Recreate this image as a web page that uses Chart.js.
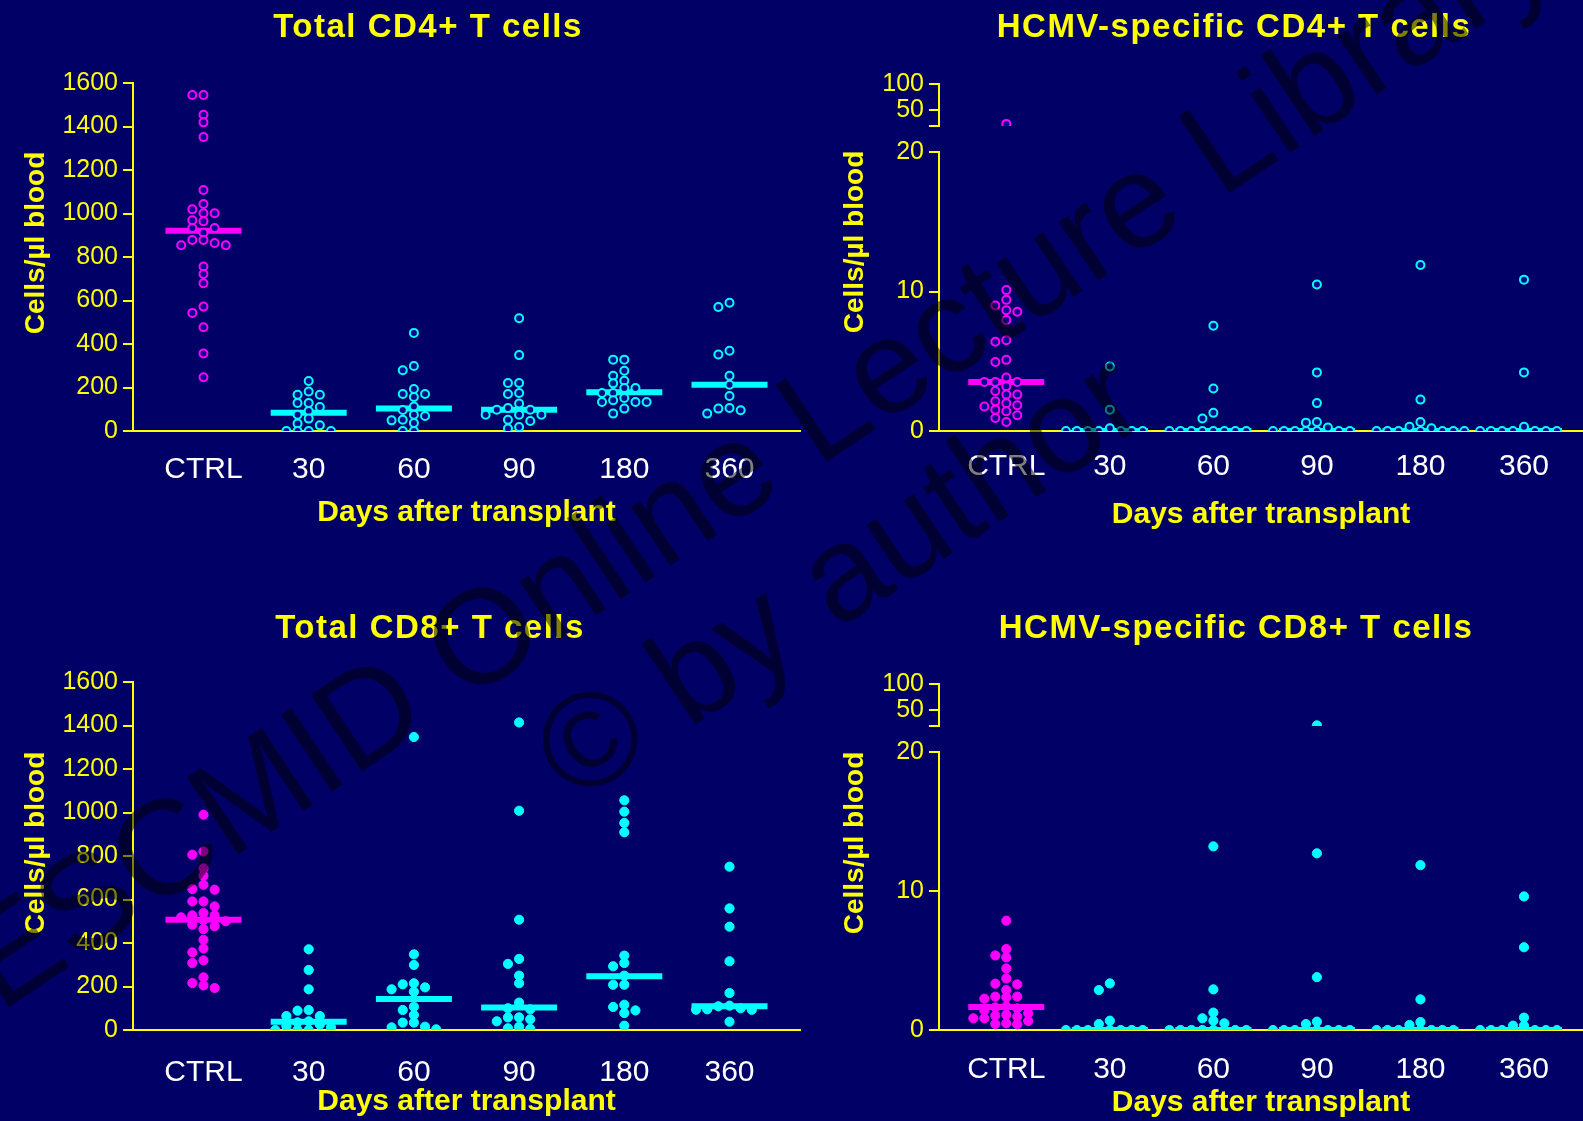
<!DOCTYPE html>
<html>
<head>
<meta charset="utf-8">
<script src="https://cdn.jsdelivr.net/npm/chart.js@4.4.1/dist/chart.umd.min.js"></script>
<style>
  html, body { margin: 0; padding: 0; background: #000066; width: 1583px; height: 1121px; overflow: hidden; }
  canvas { position: absolute; }
  .mark {
    position: absolute; font-family: 'Liberation Sans', Arial, sans-serif;
    font-size: 134px; line-height: 134px; color: rgba(0, 0, 0, 0.5);
    white-space: nowrap; transform-origin: 0 0; transform: rotate(-33.7deg); pointer-events: none;
  }
</style>
</head>
<body>
<canvas id="c1" width="806" height="540" style="left:0;top:0"></canvas>
<canvas id="c2" width="783" height="540" style="left:800px;top:0"></canvas>
<canvas id="c3" width="806" height="522" style="left:0;top:599px"></canvas>
<canvas id="c4" width="783" height="522" style="left:800px;top:599px"></canvas>
<div class="mark" style="left:-63px;top:919px">ESCMID Online Lecture Library</div>
<div class="mark" style="left:512px;top:711px">© by author</div>
<script>
// groups on the x axis
const categories = ['CTRL', '30', '60', '90', '180', '360'];

// tick values
const totalTicks = [0, 200, 400, 600, 800, 1000, 1200, 1400, 1600];
const lowTicks = [0, 10, 20];
const highTicks = [20, 50, 100];
const BREAK = 20; // where the specific-cell axes are broken

// Total CD4+ T cells, one list per group
const cd4Total = [
  [1545, 1545, 1454, 1419, 1352, 1108, 1044, 1019, 1001, 1001, 969, 964, 933, 933, 912, 878, 878, 864, 854, 854, 756, 722, 679, 572, 543, 477, 356, 247],
  [230, 182, 167, 167, 129, 129, 110, 92, 75, 57, 34, 26, 0, 0, 0, 0],
  [451, 299, 279, 193, 170, 170, 156, 113, 97, 75, 69, 52, 49, 37, 0, 0],
  [518, 349, 221, 221, 175, 170, 126, 106, 98, 98, 75, 75, 75, 52, 46, 18, 11],
  [328, 328, 277, 254, 231, 219, 198, 198, 175, 175, 152, 141, 133, 133, 133, 103, 80],
  [590, 570, 369, 352, 254, 213, 161, 106, 103, 95, 80]
];
const cd4TotalMedian = [921, 84, 104, 98, 178, 213];

// HCMV-specific CD4+ T cells
const cd4Specific = [
  [24, 10.1, 9.4, 9.0, 8.65, 8.55, 7.95, 6.5, 6.4, 5.1, 4.95, 3.83, 3.52, 3.52, 3.52, 3.2, 2.87, 2.61, 2.61, 2.13, 1.99, 1.84, 1.75, 1.53, 1.41, 1.13, 0.93, 0.65],
  [4.62, 1.53, 0.2, 0, 0, 0, 0, 0, 0, 0],
  [7.55, 3.05, 1.3, 0.9, 0, 0, 0, 0, 0, 0, 0, 0],
  [10.5, 4.2, 2.0, 0.65, 0.6, 0.25, 0, 0, 0, 0, 0, 0, 0],
  [11.9, 2.25, 0.65, 0.3, 0.2, 0, 0, 0, 0, 0, 0, 0],
  [10.85, 4.2, 0.3, 0, 0, 0, 0, 0, 0, 0]
];
const cd4SpecificMedian = [3.52, 0, 0, 0, 0, 0];

// Total CD8+ T cells
const cd8Total = [
  [990, 821, 806, 743, 709, 668, 648, 645, 591, 591, 568, 538, 527, 527, 518, 505, 500, 484, 477, 464, 415, 375, 357, 320, 308, 242, 216, 205, 193],
  [371, 276, 187, 92, 89, 64, 64, 40, 35, 25, 18, 12, 0, 0, 0],
  [1347, 348, 299, 215, 210, 196, 187, 176, 107, 92, 69, 34, 34, 15, 12, 3],
  [1414, 1008, 507, 327, 304, 250, 215, 126, 100, 95, 58, 58, 49, 40, 15, 8, 5],
  [1056, 1004, 952, 909, 342, 308, 293, 250, 208, 208, 116, 106, 90, 78, 20],
  [751, 559, 475, 316, 170, 112, 109, 100, 95, 93, 93, 38]
];
const cd8TotalMedian = [507, 38, 143, 103, 247, 109];

// HCMV-specific CD8+ T cells
const cd8Specific = [
  [7.86, 5.82, 5.36, 5.22, 4.43, 3.71, 3.33, 3.28, 2.87, 2.4, 2.4, 2.35, 2.25, 1.7, 1.63, 1.55, 1.4, 1.2, 1.1, 1.03, 0.96, 0.84, 0.84, 0.65, 0.48, 0.43, 0.41],
  [3.35, 2.87, 0.67, 0.43, 0, 0, 0, 0, 0, 0, 0],
  [13.2, 2.92, 1.25, 0.84, 0.67, 0.48, 0, 0, 0, 0, 0, 0, 0],
  [21, 12.7, 3.8, 0.6, 0.43, 0, 0, 0, 0, 0, 0, 0],
  [11.85, 2.2, 0.57, 0.36, 0, 0, 0, 0, 0, 0, 0],
  [9.6, 5.95, 0.89, 0.31, 0.31, 0, 0, 0, 0, 0, 0]
];
const cd8SpecificMedian = [1.65, 0, 0, 0, 0, 0];

const YELLOW = '#ffff00';
const MAGENTA = '#ff00ff';
const CYAN = '#00ffff';
const FONT = "'Liberation Sans', Arial, sans-serif";
Chart.defaults.font.family = FONT;

// spread points sideways so they do not sit on top of each other
// (slot 0, -1, +1, -2, +2 ... first free one wins)
function swarmSlots(values, pxPerUnit) {
  const placed = [];
  return values.map(v => {
    const y = v * pxPerUnit;
    for (let i = 0; ; i++) {
      const slot = i === 0 ? 0 : (i % 2 ? -Math.ceil(i / 2) : i / 2);
      if (!placed.some(p => p.slot === slot && Math.abs(p.y - y) < 7)) {
        placed.push({slot: slot, y: y});
        return slot;
      }
    }
  });
}

function pointSets(groups, hollow, pxLow, pxHigh) {
  const sets = [];
  groups.forEach((vals, g) => {
    const color = g === 0 ? MAGENTA : CYAN;
    const parts = pxHigh
      ? [[vals.filter(v => v < BREAK), 'y', pxLow], [vals.filter(v => v >= BREAK), 'yTop', pxHigh]]
      : [[vals, 'y', pxLow]];
    parts.forEach(([arr, axis, ppu]) => {
      if (!arr.length) return;
      const slots = swarmSlots(arr, ppu);
      sets.push({
        yAxisID: axis,
        order: 0,
        data: arr.map((v, i) => ({x: g + slots[i] * 0.106, y: v})),
        pointRadius: hollow ? 4 : 4.6,
        pointBorderWidth: hollow ? 2 : 1,
        pointBorderColor: color,
        pointBackgroundColor: hollow ? '#0a0a8c' : color
      });
    });
  });
  return sets;
}

function medianSet(medians) {
  return {
    yAxisID: 'y',
    order: 1,
    data: medians.map((m, g) => ({x: g, y: m})),
    pointStyle: 'line',
    pointRadius: 38,
    pointBorderWidth: 6,
    pointBorderColor: medians.map((m, g) => g === 0 ? MAGENTA : CYAN)
  };
}

function yScale(p, min, max, ticks, extra) {
  return Object.assign({
    type: 'linear', position: 'left', min: min, max: max,
    afterBuildTicks: s => { s.ticks = ticks.map(v => ({value: v})); },
    afterFit: s => { s.width = p.yWidth; },
    ticks: {color: YELLOW, font: {size: 25}, padding: 5, autoSkip: false,
      callback: v => (ticks === highTicks && v === BREAK) ? '' : String(v)},
    grid: {drawOnChartArea: false, tickLength: 10, color: YELLOW, lineWidth: 2},
    border: {color: YELLOW, width: 2}
  }, extra || {});
}

function xScale(p) {
  return {
    type: 'linear', position: 'bottom', min: p.xMin, max: p.xMax,
    afterBuildTicks: s => { s.ticks = categories.map((c, i) => ({value: i})); },
    afterFit: s => { s.height = p.xHeight; s.paddingLeft = 0; s.paddingRight = 0; },
    ticks: {color: '#ffffff', font: {size: 30}, padding: p.labelPad, autoSkip: false, maxRotation: 0,
      callback: v => categories[v]},
    grid: {display: false, drawTicks: false},
    border: {color: YELLOW, width: 2},
    title: {display: true, text: 'Days after transplant', color: YELLOW,
      font: {size: 30, weight: 'bold'}, padding: {top: 0, bottom: p.titlePad}}
  };
}

// panel title and rotated y title
const panelText = {
  id: 'panelText',
  afterDraw(chart, args, o) {
    const ctx = chart.ctx;
    ctx.save();
    ctx.fillStyle = YELLOW;
    ctx.textAlign = 'center';
    ctx.textBaseline = 'alphabetic';
    ctx.font = 'bold 33px ' + FONT;
    ctx.letterSpacing = '1.5px';
    ctx.fillText(o.title, o.titleX, o.titleY);
    ctx.letterSpacing = '0px';
    ctx.translate(o.axisX, o.axisY);
    ctx.rotate(-Math.PI / 2);
    ctx.font = 'bold 28px ' + FONT;
    ctx.fillText('Cells/µl blood', 0, 0);
    ctx.restore();
  }
};

function makePanel(id, p, groups, medians, hollow, broken) {
  const scales = {x: xScale(p)};
  let datasets;
  if (broken) {
    scales.y = yScale(p, 0, 20, lowTicks, {stack: 'left', stackWeight: 279, weight: 0});
    scales.yGap = {type: 'linear', position: 'left', stack: 'left', stackWeight: 26, weight: 1, min: 0, max: 1,
      afterFit: s => { s.width = p.yWidth; },
      ticks: {display: false}, grid: {display: false}, border: {display: false}};
    scales.yTop = yScale(p, 20, 100, highTicks, {stack: 'left', stackWeight: 42, weight: 2});
    datasets = pointSets(groups, hollow, 279 / 20, 42 / 80);
  } else {
    scales.y = yScale(p, 0, 1600, totalTicks);
    datasets = pointSets(groups, hollow, 348 / 1600, null);
  }
  datasets.push(medianSet(medians));

  new Chart(document.getElementById(id), {
    type: 'scatter',
    data: {datasets: datasets},
    options: {
      responsive: false,
      animation: false,
      events: [],
      layout: {autoPadding: false, padding: {left: 0, right: p.padRight, top: p.top, bottom: 0}},
      plugins: {
        legend: {display: false},
        tooltip: {enabled: false},
        panelText: {title: p.title, titleX: p.titleX, titleY: p.titleY, axisX: p.axisX, axisY: p.axisY}
      },
      scales: scales
    },
    plugins: [panelText]
  });
}

makePanel('c1', {title: 'Total CD4+ T cells', titleX: 428, titleY: 37, axisX: 44, axisY: 243,
  top: 83, yWidth: 133, padRight: 6, xMin: -0.67, xMax: 5.67, xHeight: 109, labelPad: 21, titlePad: 9},
  cd4Total, cd4TotalMedian, true, false);

makePanel('c2', {title: 'HCMV-specific CD4+ T cells', titleX: 434, titleY: 37, axisX: 63, axisY: 242,
  top: 84, yWidth: 139, padRight: 0, xMin: -0.65, xMax: 5.57, xHeight: 109, labelPad: 18, titlePad: 7},
  cd4Specific, cd4SpecificMedian, true, true);

makePanel('c3', {title: 'Total CD8+ T cells', titleX: 430, titleY: 39, axisX: 44, axisY: 244,
  top: 83, yWidth: 133, padRight: 6, xMin: -0.67, xMax: 5.67, xHeight: 91, labelPad: 25, titlePad: 1},
  cd8Total, cd8TotalMedian, false, false);

makePanel('c4', {title: 'HCMV-specific CD8+ T cells', titleX: 436, titleY: 39, axisX: 63, axisY: 244,
  top: 85, yWidth: 139, padRight: 0, xMin: -0.65, xMax: 5.57, xHeight: 91, labelPad: 22, titlePad: 0},
  cd8Specific, cd8SpecificMedian, false, true);
</script>
</body>
</html>
